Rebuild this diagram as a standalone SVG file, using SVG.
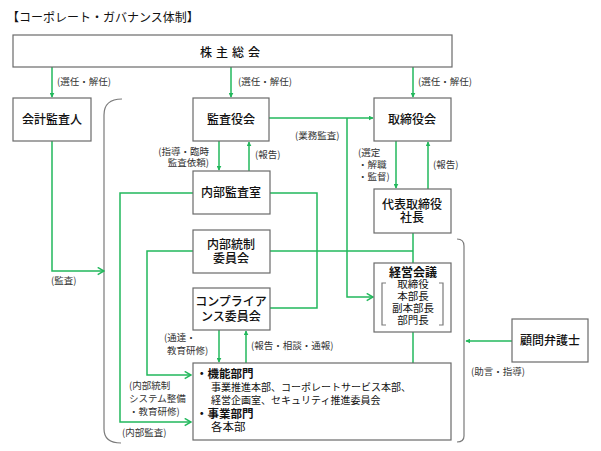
<svg xmlns="http://www.w3.org/2000/svg" width="601" height="451" viewBox="0 0 601 451">
<defs>
<style>
text{font-family:"Noto Sans CJK JP","Liberation Sans",sans-serif;fill:#111}
.box{fill:#fff;stroke:#6a6a6a;stroke-width:1.2}
.t{font-size:12px;text-anchor:middle;font-weight:500}
.l{font-size:9.5px;fill:#333}
.c{fill:none;stroke:#22b85c;stroke-width:1.5}
.br{fill:none;stroke:#7a7a7a;stroke-width:1.2}
.b{font-weight:bold}
</style>
<marker id="tri" viewBox="0 0 8 8" refX="7" refY="4" markerWidth="5" markerHeight="5" orient="auto" markerUnits="userSpaceOnUse">
<path d="M0,0 L8,4 L0,8 z" fill="#22b85c"/>
</marker>
<marker id="chev" viewBox="0 0 10 10" refX="9" refY="5" markerWidth="9" markerHeight="9" orient="auto" markerUnits="userSpaceOnUse">
<path d="M2,1 L9,5 L2,9" fill="none" stroke="#22b85c" stroke-width="1.6"/>
</marker>
</defs>
<rect width="601" height="451" fill="#fff"/>
<text x="7" y="22" style="font-size:12px">【コーポレート・ガバナンス体制】</text>

<g id="brackets">
<path class="br" d="M122,99 Q104,99 104,115 L104,429 Q104,443 121,443"/>
<path class="br" d="M457,239 Q464,239 464,246 L464,436 Q464,442 457,442"/>
</g>

<g id="connectors">
<path class="c" d="M52,67 V97" marker-end="url(#tri)"/>
<path class="c" d="M231,67 V97" marker-end="url(#tri)"/>
<path class="c" d="M413,67 V97" marker-end="url(#tri)"/>
<path class="c" d="M269,118 H373" marker-end="url(#tri)"/>
<path class="c" d="M347,118 V297 H373" marker-end="url(#chev)"/>
<path class="c" d="M219,141 V170" marker-end="url(#tri)"/>
<path class="c" d="M249,171 V142" marker-end="url(#tri)"/>
<path class="c" d="M396,141 V188" marker-end="url(#tri)"/>
<path class="c" d="M428,189 V142" marker-end="url(#tri)"/>
<path class="c" d="M52,141 V271 H104" marker-end="url(#chev)"/>
<path class="c" d="M193,193 H120 V422 H191" marker-end="url(#chev)"/>
<path class="c" d="M270,193 H317 V308 H270"/>
<path class="c" d="M193,251 H147 V375 H191" marker-end="url(#chev)"/>
<path class="c" d="M270,251 H413"/>
<path class="c" d="M413,233 V263"/>
<path class="c" d="M413,332 V363"/>
<path class="c" d="M219,330 V362" marker-end="url(#tri)"/>
<path class="c" d="M246,363 V331" marker-end="url(#tri)"/>
<path class="c" d="M512,341 H466" marker-end="url(#tri)"/>
</g>

<g id="labels">
<text class="l" x="57" y="85">(選任・解任)</text>
<text class="l" x="238" y="85">(選任・解任)</text>
<text class="l" x="418" y="85">(選任・解任)</text>
<text class="l" x="295" y="139">(業務監査)</text>
<text class="l" x="209" y="155" text-anchor="end">(指導・臨時</text>
<text class="l" x="209" y="166" text-anchor="end">監査依頼)</text>
<text class="l" x="255" y="158">(報告)</text>
<text class="l" x="358" y="156">(選定</text>
<text class="l" x="358" y="168">・解職</text>
<text class="l" x="358" y="180">・監督)</text>
<text class="l" x="433" y="168">(報告)</text>
<text class="l" x="51" y="284">(監査)</text>
<text class="l" x="164" y="341">(通達・</text>
<text class="l" x="167" y="354">教育研修)</text>
<text class="l" x="251" y="349">(報告・相談・通報)</text>
<text class="l" x="129" y="389">(内部統制</text>
<text class="l" x="129" y="402">システム整備</text>
<text class="l" x="129" y="415">・教育研修)</text>
<text class="l" x="122" y="436">(内部監査)</text>
<text class="l" x="471" y="375">(助言・指導)</text>
</g>

<g id="shareholders">
<rect class="box" x="13" y="35" width="439" height="32"/>
<text class="t" x="232" y="57" style="letter-spacing:4px">株主総会</text>
</g>
<g id="auditor">
<rect class="box" x="13" y="98" width="78" height="43"/>
<text class="t" x="52" y="124">会計監査人</text>
</g>
<g id="audit-board">
<rect class="box" x="193" y="98" width="76" height="43"/>
<text class="t" x="231" y="124">監査役会</text>
</g>
<g id="board">
<rect class="box" x="374" y="98" width="77" height="43"/>
<text class="t" x="412" y="124">取締役会</text>
</g>
<g id="internal-audit">
<rect class="box" x="193" y="171" width="77" height="43"/>
<text class="t" x="231" y="197">内部監査室</text>
</g>
<g id="president">
<rect class="box" x="374" y="189" width="77" height="44"/>
<text class="t" x="412" y="209">代表取締役</text>
<text class="t" x="412" y="222">社長</text>
</g>
<g id="internal-control">
<rect class="box" x="193" y="230" width="77" height="43"/>
<text class="t" x="231" y="249">内部統制</text>
<text class="t" x="231" y="263">委員会</text>
</g>
<g id="compliance">
<rect class="box" x="193" y="288" width="77" height="42"/>
<text class="t" x="231" y="306">コンプライア</text>
<text class="t" x="231" y="321">ンス委員会</text>
</g>
<g id="management">
<rect class="box" x="374" y="263" width="77" height="69"/>
<text class="t b" x="413" y="277">経営会議</text>
<path class="br" d="M386,283 H382 V325 H386 M439,283 H443 V325 H439"/>
<text class="t" x="413" y="288" style="font-size:10.5px;font-weight:normal">取締役</text>
<text class="t" x="413" y="300" style="font-size:10.5px;font-weight:normal">本部長</text>
<text class="t" x="413" y="312" style="font-size:10.5px;font-weight:normal">副本部長</text>
<text class="t" x="413" y="324" style="font-size:10.5px;font-weight:normal">部門長</text>
</g>
<g id="lawyer">
<rect class="box" x="512" y="319" width="76" height="43"/>
<text class="t" x="550" y="345">顧問弁護士</text>
</g>
<g id="departments">
<rect class="box" x="193" y="363" width="258" height="77"/>
<text x="196" y="378" style="font-size:11.5px;font-weight:bold">・機能部門</text>
<text x="211" y="391" style="font-size:10px">事業推進本部、コーポレートサービス本部、</text>
<text x="211" y="404" style="font-size:10px">経営企画室、セキュリティ推進委員会</text>
<text x="196" y="418" style="font-size:11.5px;font-weight:bold">・事業部門</text>
<text x="211" y="431" style="font-size:11.5px">各本部</text>
</g>
</svg>
